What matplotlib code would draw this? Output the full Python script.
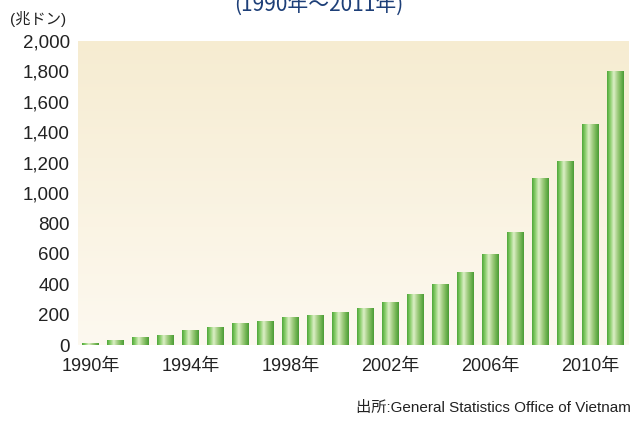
import numpy as np
import matplotlib
matplotlib.use("Agg")
import matplotlib.pyplot as plt
from matplotlib.colors import LinearSegmentedColormap

plt.rcParams['font.family'] = ['Liberation Sans', 'Noto Sans CJK JP']

years = list(range(1990, 2012))
values = [15, 33, 51, 66, 99, 120, 143, 160, 186, 197, 219, 245,
          283, 335, 403, 478, 597, 746, 1097, 1212, 1452, 1805]
tick_years = [1990, 1994, 1998, 2002, 2006, 2010]
tick_labels = ["1990年", "1994年", "1998年", "2002年", "2006年", "2010年"]
y_ticks = [0, 200, 400, 600, 800, 1000, 1200, 1400, 1600, 1800, 2000]

fig = plt.figure(figsize=(6.37, 4.21), dpi=100)
ax = fig.add_axes([0.1224, 0.1805, 0.8636, 0.7221])

x = np.arange(len(years))
ax.set_xlim(-0.52, len(years) - 0.48)
ax.set_ylim(0, 2000)

# beige background gradient
bg = LinearSegmentedColormap.from_list("bg", ["#fdf9f0", "#f6ecd1"])
ax.imshow(np.linspace(0, 1, 256).reshape(-1, 1), cmap=bg, aspect="auto",
          extent=(-0.52, len(years) - 0.48, 0, 2000), origin="lower", zorder=0)

# bars with horizontal green gradient
bars = ax.bar(x, values, width=0.68, color="#6ab84c", zorder=2)
green = LinearSegmentedColormap.from_list(
    "gr", ["#4fa83a", "#8fd070", "#dcefc6", "#a8d088", "#78b858", "#4a9c35"])
grad = np.linspace(0, 1, 64).reshape(1, -1)
for b in bars:
    x0, y0 = b.get_x(), b.get_y()
    im = ax.imshow(grad, cmap=green, aspect="auto", zorder=3,
                   extent=(x0, x0 + b.get_width(), y0, y0 + b.get_height()))
    im.set_clip_path(b)

ax.set_xlim(-0.52, len(years) - 0.48)
ax.set_ylim(0, 2000)
ax.set_yticks(y_ticks)
ax.set_yticklabels([f"{v:,}" for v in y_ticks], fontsize=13.5, color="#222222")
ax.set_xticks([years.index(y) for y in tick_years])
ax.set_xticklabels(tick_labels, fontsize=13, color="#222222")
ax.tick_params(axis="y", length=0, pad=6)
ax.tick_params(axis="x", length=0, pad=9)
for s in ax.spines.values():
    s.set_visible(False)

fig.text(0.015, 0.955, "(兆ドン)", fontsize=11, color="#222222", va="center")
fig.text(0.5, 0.988, "(1990年～2011年)", fontsize=15, color="#1d3f78",
         ha="center", va="center", family=['Noto Sans CJK JP'])
fig.text(0.99, 0.03, "出所:General Statistics Office of Vietnam", fontsize=11,
         color="#222222", ha="right", va="center")

fig.savefig("out.png", dpi=100)
